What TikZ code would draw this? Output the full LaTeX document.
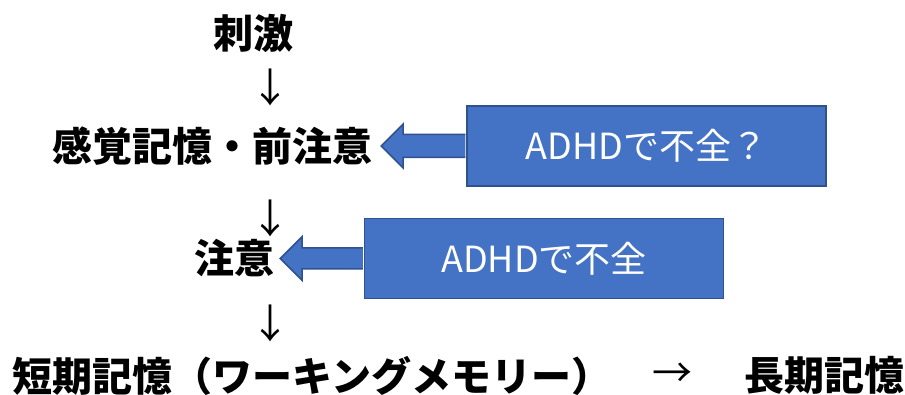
\documentclass[tikz,border=0pt]{standalone}
\usepackage{fontspec}
\newfontfamily\jp{Noto Sans CJK JP}
\definecolor{boxblue}{HTML}{4472C4}
\definecolor{boxedge}{HTML}{2F528F}
\tikzset{
  stage/.style={font=\jp\bfseries\fontsize{40}{40}\selectfont, inner sep=0pt},
  flowmark/.style={font=\jp\fontsize{40}{40}\selectfont, inner sep=0pt},
  cause/.style={draw=boxedge, line width=1.5pt, fill=boxblue, text=white,
    minimum width=359pt, minimum height=80pt, inner sep=0pt,
    font=\jp\fontsize{36}{36}\selectfont},
  blockarrow/.style={draw=boxedge, line width=1.5pt, fill=boxblue, line join=miter}
}
\begin{document}
\begin{tikzpicture}[x=1pt,y=1pt]
    \useasboundingbox (0,0) rectangle (905,-395);
    % stages
    \node[stage] (stim) at (253,-33) {刺激};
    \node[flowmark] (down1) at (270,-87) {↓};
    \node[stage] (sense) at (212,-146) {感覚記憶・前注意};
    \node[flowmark] (down2) at (270,-218) {↓};
    \node[stage] (attn) at (234,-258.5) {注意};
    \node[flowmark] (down3) at (270,-323) {↓};
    \node[stage, anchor=west] (stm) at (12,-375.5) {短期記憶（ワーキングメモリー）};
    \node[flowmark] (right) at (672,-375.5) {→};
    \node[stage, anchor=east] (ltm) at (905,-375.5) {長期記憶};
    % ADHD boxes
    \node[cause] (adhd1) at (646.5,-146) {ADHDで不全？};
    \node[cause] (adhd2) at (544,-258.5) {ADHDで不全};
    % block arrows
    \draw[blockarrow] ([xshift=-1,yshift=11.5]adhd1.west) -- ([xshift=31,yshift=11.5]sense.east)
        -- ([xshift=31,yshift=22]sense.east) -- ([xshift=9]sense.east)
        -- ([xshift=31,yshift=-22]sense.east) -- ([xshift=31,yshift=-11.5]sense.east)
        -- ([xshift=-1,yshift=-11.5]adhd1.west);
    \draw[blockarrow] ([xshift=-1,yshift=10.5]adhd2.west) -- ([xshift=28,yshift=10.5]attn.east)
        -- ([xshift=28,yshift=22]attn.east) -- ([xshift=6]attn.east)
        -- ([xshift=28,yshift=-22]attn.east) -- ([xshift=28,yshift=-10.5]attn.east)
        -- ([xshift=-1,yshift=-10.5]adhd2.west);
\end{tikzpicture}
\end{document}
